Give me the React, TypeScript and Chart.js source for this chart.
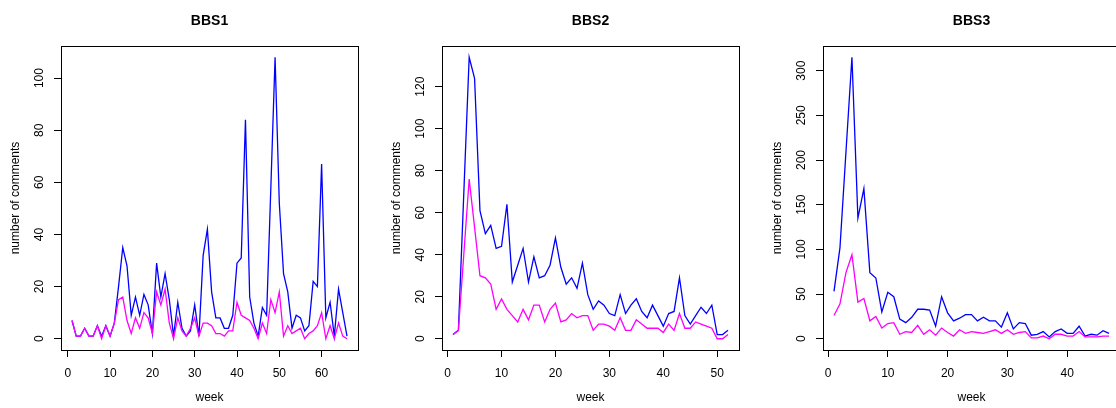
import React, { useEffect, useRef } from "react";
import { Chart, registerables } from "chart.js";

Chart.register(...registerables);

// ---- data ----
const titles = ["BBS1", "BBS2", "BBS3"];
const xAxisLabel = "week";
const yAxisLabel = "number of comments";

const bbs1Total = [7, 1, 1, 4, 1, 1, 5, 1, 5, 1, 6, 20, 35, 28, 9, 16, 9, 17, 13, 2, 29, 16, 25, 15, 1, 14, 4, 1, 3, 13, 1, 32, 42, 18, 8, 8, 4, 4, 9, 29, 31, 84, 16, 6, 1, 12, 9, 58, 108, 52, 25, 18, 4, 9, 8, 3, 5, 22, 20, 67, 8, 14, 1, 19, 10, 1];
const bbs1Sub = [7, 1, 1, 4, 1, 1, 5, 0, 5, 1, 6, 15, 16, 7, 2, 8, 4, 10, 8, 2, 18, 13, 19, 6, 0, 8, 3, 1, 4, 8, 1, 6, 6, 5, 2, 2, 1, 3, 3, 14, 9, 8, 7, 4, 0, 6, 2, 15, 10, 18, 1, 5, 2, 3, 4, 0, 2, 3, 5, 10, 0, 5, 0, 6, 1, 0];

const bbs2Total = [2, 4, 69, 134, 124, 61, 50, 54, 43, 44, 64, 27, 35, 43, 27, 39, 29, 30, 35, 48, 34, 26, 29, 24, 36, 21, 14, 18, 16, 12, 11, 21, 12, 16, 19, 13, 10, 16, 11, 6, 12, 13, 29, 11, 7, 11, 15, 12, 16, 2, 2, 4];
const bbs2Sub = [2, 4, 40, 76, 53, 30, 29, 26, 14, 19, 14, 11, 8, 14, 9, 16, 16, 8, 14, 17, 8, 9, 12, 10, 11, 11, 4, 7, 7, 6, 4, 10, 4, 4, 9, 7, 5, 5, 5, 3, 7, 4, 12, 5, 5, 8, 7, 6, 5, 0, 0, 2];

const bbs3Total = [53, 102, 209, 315, 135, 168, 74, 68, 30, 52, 47, 22, 18, 24, 33, 33, 32, 14, 47, 29, 20, 23, 27, 27, 20, 24, 20, 20, 13, 29, 11, 18, 17, 4, 5, 8, 2, 8, 11, 6, 6, 14, 3, 5, 4, 9, 6];
const bbs3Sub = [26, 39, 74, 94, 41, 45, 20, 25, 12, 17, 18, 5, 8, 7, 15, 5, 10, 4, 12, 7, 3, 10, 6, 8, 7, 6, 8, 10, 6, 10, 5, 7, 8, 1, 1, 3, 0, 5, 5, 3, 3, 8, 2, 2, 2, 3, 3];

const xTicks1 = [0, 10, 20, 30, 40, 50, 60];
const xTicks2 = [0, 10, 20, 30, 40, 50];
const xTicks3 = [0, 10, 20, 30, 40];
const yTicks1 = [0, 20, 40, 60, 80, 100];
const yTicks2 = [0, 20, 40, 60, 80, 100, 120];
const yTicks3 = [0, 50, 100, 150, 200, 250, 300];

const FONT = "'Liberation Sans', Arial, Helvetica, sans-serif";

const boxPlugin = {
  id: "rbox",
  afterDraw(chart: any) {
    const { ctx, chartArea } = chart;
    ctx.save();
    ctx.strokeStyle = "#000";
    ctx.lineWidth = 1;
    ctx.strokeRect(
      Math.round(chartArea.left) + 0.5,
      Math.round(chartArea.top) + 0.5,
      Math.round(chartArea.right - chartArea.left),
      Math.round(chartArea.bottom - chartArea.top)
    );
    ctx.restore();
  },
};

type PanelProps = {
  title: string;
  total: number[];
  sub: number[];
  xTicks: number[];
  yTicks: number[];
  left: number;
};

function Panel({ title, total, sub, xTicks, yTicks, left }: PanelProps) {
  const ref = useRef<HTMLCanvasElement>(null);
  useEffect(() => {
    if (!ref.current) return;
    const n = total.length;
    const xpad = (n - 1) * 0.04;
    const ymax = Math.max(...total, ...sub);
    const ypad = ymax * 0.04;
    const tickGrid = {
      display: true,
      drawOnChartArea: false,
      drawTicks: true,
      tickLength: 7,
      color: "#000",
      lineWidth: 1,
    };
    const chart = new Chart(ref.current, {
      type: "line",
      data: {
        datasets: [
          {
            data: sub.map((v, i) => ({ x: i + 1, y: v })),
            borderColor: "#FF00FF",
            backgroundColor: "#FF00FF",
            borderWidth: 1.3,
            pointRadius: 0,
            tension: 0,
            fill: false,
          },
          {
            data: total.map((v, i) => ({ x: i + 1, y: v })),
            borderColor: "#0000FF",
            backgroundColor: "#0000FF",
            borderWidth: 1.3,
            pointRadius: 0,
            tension: 0,
            fill: false,
          },
        ],
      },
      options: {
        animation: false,
        responsive: false,
        maintainAspectRatio: false,
        layout: { padding: { left: 0, right: 23, top: 0, bottom: 0 } },
        plugins: {
          legend: { display: false },
          tooltip: { enabled: false },
          title: {
            display: true,
            text: title,
            fullSize: false,
            color: "#000",
            font: { family: FONT, size: 14, weight: "bold", lineHeight: 1.2 },
            padding: { top: 12.6, bottom: 16.6 },
          },
        },
        scales: {
          x: {
            type: "linear",
            position: "bottom",
            min: 1 - xpad,
            max: n + xpad,
            afterBuildTicks: (s: any) => {
              s.ticks = xTicks.map((v) => ({ value: v }));
            },
            afterFit: (s: any) => {
              s.height = 58;
            },
            grid: tickGrid,
            border: { display: false },
            ticks: {
              color: "#000",
              font: { family: FONT, size: 12 },
              padding: 9,
              maxRotation: 0,
              minRotation: 0,
              autoSkip: false,
            },
            title: {
              display: true,
              text: xAxisLabel,
              color: "#000",
              font: { family: FONT, size: 12, lineHeight: 1.2 },
              padding: { top: 0, bottom: 3 },
            },
          },
          y: {
            type: "linear",
            position: "left",
            min: -ypad,
            max: ymax + ypad,
            afterBuildTicks: (s: any) => {
              s.ticks = yTicks.map((v) => ({ value: v }));
            },
            afterFit: (s: any) => {
              s.width = 61;
            },
            grid: tickGrid,
            border: { display: false },
            ticks: {
              color: "#000",
              font: { family: FONT, size: 12 },
              padding: 4,
              minRotation: 90,
              maxRotation: 90,
              crossAlign: "center",
              autoSkip: false,
            },
            title: {
              display: true,
              text: yAxisLabel,
              color: "#000",
              font: { family: FONT, size: 12, lineHeight: 1.2 },
              padding: { top: 8, bottom: 0 },
            },
          },
        },
      } as any,
      plugins: [boxPlugin],
    });
    return () => chart.destroy();
  }, [title, total, sub, xTicks, yTicks]);

  return (
    <canvas
      ref={ref}
      width={381}
      height={408}
      style={{ position: "absolute", left, top: 0, width: 381, height: 408, display: "block" }}
    />
  );
}

export default function App() {
  return (
    <div
      style={{
        position: "fixed",
        left: 0,
        top: 0,
        width: 1116,
        height: 408,
        overflow: "hidden",
        background: "#fff",
      }}
    >
      <Panel title={titles[0]} total={bbs1Total} sub={bbs1Sub} xTicks={xTicks1} yTicks={yTicks1} left={0} />
      <Panel title={titles[1]} total={bbs2Total} sub={bbs2Sub} xTicks={xTicks2} yTicks={yTicks2} left={381} />
      <Panel title={titles[2]} total={bbs3Total} sub={bbs3Sub} xTicks={xTicks3} yTicks={yTicks3} left={762} />
    </div>
  );
}
